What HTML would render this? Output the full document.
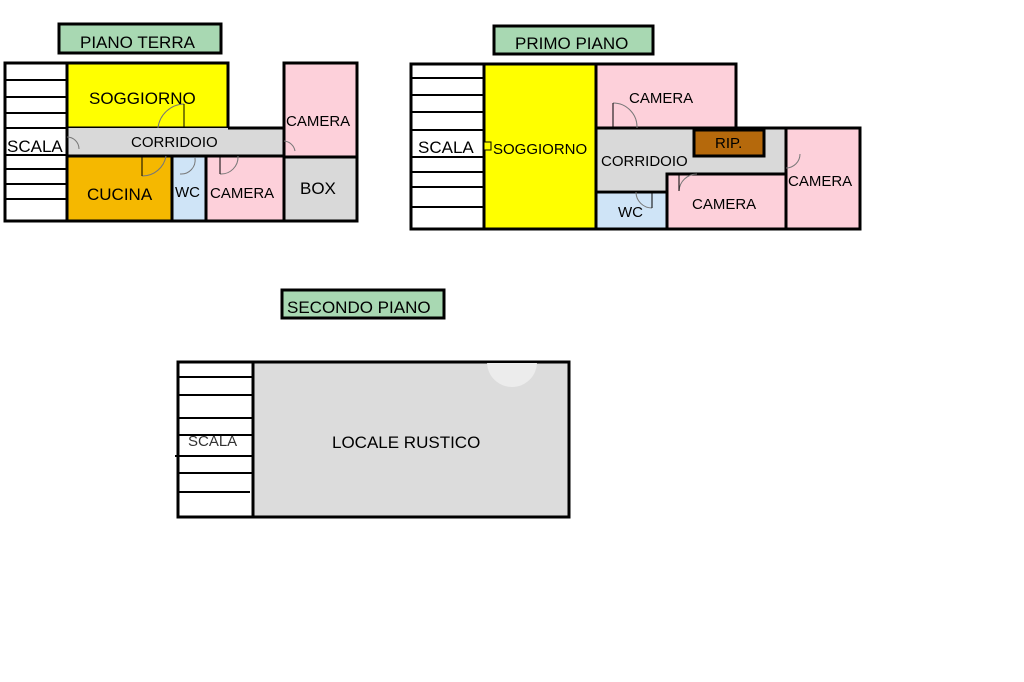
<!DOCTYPE html>
<html><head><meta charset="utf-8"><style>body{margin:0;background:#fff}svg{display:block}text{font-family:"Liberation Sans",sans-serif}</style></head><body>
<svg width="1024" height="682" viewBox="0 0 1024 682" xmlns="http://www.w3.org/2000/svg">
<defs><clipPath id="c"><rect x="254" y="363" width="314" height="153"/></clipPath></defs>
<rect width="1024" height="682" fill="#fff"/>
<g stroke="#000" stroke-width="3">
<rect x="59" y="24" width="162" height="29" fill="#a8d8b2"/>
<rect x="5" y="63" width="62" height="158" fill="#fff"/>
<rect x="67" y="63" width="161" height="65" fill="#ffff00"/>
<rect x="67" y="128" width="217" height="28" fill="#d9d9d9" stroke="none"/>
<rect x="284" y="63" width="73" height="94" fill="#fdd0da"/>
<rect x="284" y="157" width="73" height="64" fill="#d9d9d9"/>
<rect x="67" y="156" width="105" height="65" fill="#f5b800"/>
<rect x="172" y="156" width="34" height="65" fill="#cfe4f7"/>
<rect x="206" y="156" width="78" height="65" fill="#fdd0da"/>
<line x1="228" y1="128" x2="284" y2="128"/>
<line x1="67" y1="128" x2="67" y2="221"/>
</g>
<g stroke="#000" stroke-width="2">
<line x1="5" y1="80" x2="67" y2="80"/><line x1="5" y1="97" x2="67" y2="97"/><line x1="5" y1="113" x2="67" y2="113"/><line x1="5" y1="128" x2="67" y2="128"/>
<line x1="5" y1="155" x2="67" y2="155"/><line x1="5" y1="169" x2="67" y2="169"/><line x1="5" y1="184" x2="67" y2="184"/><line x1="5" y1="199" x2="67" y2="199"/>
</g>
<g fill="none" stroke="#777" stroke-width="1">
<path d="M158 128 A27 27 0 0 1 184 104"/><line x1="184" y1="104" x2="184" y2="128" stroke="#000"/>
<path d="M142 176 A24 24 0 0 0 166 156"/><line x1="142" y1="156" x2="142" y2="176" stroke="#000"/>
<path d="M180 174 A14 14 0 0 0 195 158"/>
<path d="M220 174 A17 17 0 0 0 238 156"/><line x1="220" y1="156" x2="220" y2="174" stroke="#000"/>
<path d="M67 137 A12 12 0 0 1 79 149"/>
<path d="M284 141 A12 12 0 0 1 295 151"/>
</g>
<g fill="#000">
<text x="80" y="48" font-size="17">PIANO TERRA</text>
<text x="89" y="104" font-size="17">SOGGIORNO</text>
<text x="7" y="152" font-size="17">SCALA</text>
<text x="131" y="147" font-size="15">CORRIDOIO</text>
<text x="286" y="126" font-size="15">CAMERA</text>
<text x="87" y="200" font-size="17">CUCINA</text>
<text x="175" y="197" font-size="15">WC</text>
<text x="210" y="198" font-size="15">CAMERA</text>
<text x="300" y="194" font-size="17">BOX</text>
</g>
<g stroke="#000" stroke-width="3">
<rect x="494" y="26" width="159" height="28" fill="#a8d8b2"/>
<rect x="596" y="128" width="190" height="62" fill="#d9d9d9" stroke="none"/>
<rect x="411" y="64" width="73" height="165" fill="#fff"/>
<rect x="484" y="64" width="112" height="165" fill="#ffff00"/>
<rect x="596" y="64" width="140" height="64" fill="#fdd0da"/>
<rect x="694" y="130" width="70" height="26" fill="#b5690c"/>
<rect x="786" y="128" width="74" height="101" fill="#fdd0da"/>
<rect x="667" y="174" width="119" height="55" fill="#fdd0da"/>
<rect x="596" y="192" width="71" height="37" fill="#cfe4f7"/>
<line x1="736" y1="128" x2="786" y2="128"/>
</g>
<g stroke="#000" stroke-width="2">
<line x1="411" y1="78" x2="484" y2="78"/><line x1="411" y1="95" x2="484" y2="95"/><line x1="411" y1="112" x2="484" y2="112"/><line x1="411" y1="130" x2="484" y2="130"/>
<line x1="411" y1="157" x2="484" y2="157"/><line x1="411" y1="172" x2="484" y2="172"/><line x1="411" y1="187" x2="484" y2="187"/><line x1="411" y1="207" x2="484" y2="207"/>
</g>
<g fill="none" stroke="#777" stroke-width="1">
<path d="M613 103 A24 24 0 0 1 637 128"/><line x1="613" y1="103" x2="613" y2="128" stroke="#000"/>
<path d="M679 191 A18 18 0 0 1 697 174"/><line x1="679" y1="174" x2="679" y2="191" stroke="#000"/>
<path d="M636 192 A16 16 0 0 0 652 208"/><line x1="652" y1="192" x2="652" y2="208" stroke="#000"/>
<path d="M786 168 A14 14 0 0 0 800 154"/>
</g>
<rect x="484" y="142" width="7" height="8" fill="#ffff00" stroke="#000" stroke-width="1"/>
<g fill="#000">
<text x="515" y="49" font-size="17">PRIMO PIANO</text>
<text x="418" y="153" font-size="17">SCALA</text>
<text x="493" y="154" font-size="15">SOGGIORNO</text>
<text x="629" y="103" font-size="15">CAMERA</text>
<text x="715" y="148" font-size="15">RIP.</text>
<text x="601" y="166" font-size="15">CORRIDOIO</text>
<text x="788" y="186" font-size="15">CAMERA</text>
<text x="692" y="209" font-size="15">CAMERA</text>
<text x="618" y="217" font-size="15">WC</text>
</g>
<g stroke="#000" stroke-width="3">
<rect x="282" y="290" width="162" height="28" fill="#a8d8b2"/>
<rect x="178" y="362" width="75" height="155" fill="#fff"/>
<rect x="253" y="362" width="316" height="155" fill="#dcdcdc"/>
</g>
<circle cx="512" cy="362" r="25" fill="#ececec" clip-path="url(#c)"/>
<g stroke="#000" stroke-width="2">
<line x1="178" y1="377" x2="253" y2="377"/><line x1="178" y1="395" x2="253" y2="395"/><line x1="178" y1="418" x2="253" y2="418"/><line x1="178" y1="435" x2="253" y2="435"/>
<line x1="175" y1="456" x2="253" y2="456"/><line x1="178" y1="473" x2="253" y2="473"/><line x1="178" y1="492" x2="250" y2="492"/>
</g>
<g fill="#000">
<text x="287" y="313" font-size="17">SECONDO PIANO</text>
<text x="188" y="446" font-size="15" fill="#333">SCALA</text>
<text x="332" y="448" font-size="17">LOCALE RUSTICO</text>
</g>
</svg>
</body></html>
